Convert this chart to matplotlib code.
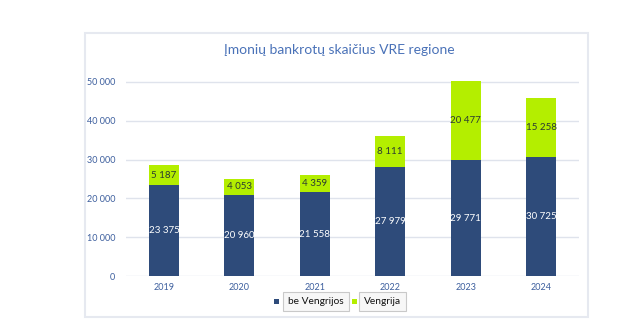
import matplotlib
matplotlib.use("Agg")
import matplotlib.pyplot as plt
from matplotlib.patches import Rectangle

years = ["2019", "2020", "2021", "2022", "2023", "2024"]
be_vengrijos = [23375, 20960, 21558, 27979, 29771, 30725]
vengrija = [5187, 4053, 4359, 8111, 20477, 15258]
yticks = [0, 10000, 20000, 30000, 40000, 50000]
title = "Įmonių bankrotų skaičius VRE regione"
legend_labels = ["be Vengrijos", "Vengrija"]

DARK = "#2e4b7a"
LIME = "#b4ee00"
TICK = "#3d5f9e"

plt.rcParams['font.family'] = ['Lato', 'DejaVu Sans']

def fmt(v):
    return f"{v:,}".replace(",", " ")

fig = plt.figure(figsize=(6.43, 3.31), dpi=100)
W, H = 643, 331

# outer frame
fig.patches.append(Rectangle((85 / W, 1 - 317 / H), (588 - 85) / W, (317 - 33) / H,
                             transform=fig.transFigure, fill=False,
                             edgecolor="#e6e9f0", linewidth=1.5))

ax = fig.add_axes([126.3 / W, 1 - 276 / H, (578.7 - 126.3) / W, (276 - 74.2) / H])
x = range(len(years))
ax.bar(x, be_vengrijos, width=0.4, color=DARK, zorder=3)
ax.bar(x, vengrija, width=0.4, bottom=be_vengrijos, color=LIME, zorder=3)

for i in x:
    ax.text(i, be_vengrijos[i] / 2, fmt(be_vengrijos[i]), ha="center", va="center",
            color="white", fontsize=7, zorder=4)
    ax.text(i, be_vengrijos[i] + vengrija[i] / 2, fmt(vengrija[i]), ha="center",
            va="center", color="#2b3a33", fontsize=7, zorder=4)

ax.set_xlim(-0.5, len(years) - 0.5)
ax.set_ylim(0, 52000)
ax.set_yticks(yticks)
ax.set_yticklabels([fmt(v) for v in yticks])
ax.set_xticks(list(x))
ax.set_xticklabels(years)
ax.tick_params(axis="both", length=0, labelsize=6.5, labelcolor=TICK)
ax.tick_params(axis="y", pad=8)
ax.tick_params(axis="x", pad=5)
ax.grid(axis="y", color="#dfe3ec", linewidth=1, zorder=0)
for s in ax.spines.values():
    s.set_visible(False)

fig.text(339 / W, 1 - 50 / H, title, ha="center", va="center", fontsize=10, color="#4a72b8")

# legend
ly = 1 - 301.5 / H
fig.patches.append(Rectangle((274 / W, ly - 2 / H), 4.5 / W, 4.5 / H, transform=fig.transFigure,
                             facecolor=DARK, edgecolor="none"))
fig.text(288 / W, ly, legend_labels[0], ha="left", va="center", fontsize=7.3, color="#111111",
         bbox=dict(boxstyle="square,pad=0.5", facecolor="#f7f7f7", edgecolor="#c9c9c9", linewidth=0.8))
fig.patches.append(Rectangle((352 / W, ly - 2 / H), 4.5 / W, 4.5 / H, transform=fig.transFigure,
                             facecolor=LIME, edgecolor="none"))
fig.text(364 / W, ly, legend_labels[1], ha="left", va="center", fontsize=7.3, color="#111111",
         bbox=dict(boxstyle="square,pad=0.5", facecolor="#f7f7f7", edgecolor="#c9c9c9", linewidth=0.8))

fig.savefig("out.png", dpi=100)
